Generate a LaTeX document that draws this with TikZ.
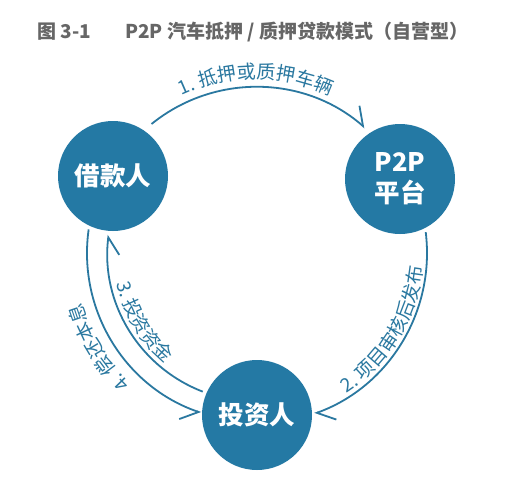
\documentclass[tikz,border=0pt]{standalone}
\usepackage{fontspec}
\newfontfamily\cjk{Noto Sans CJK SC}
\usetikzlibrary{arrows.meta,decorations.text,calc}
\definecolor{mainblue}{HTML}{2479A4}
\definecolor{linkblue}{HTML}{2A78A0}
\definecolor{titlegray}{HTML}{666666}
\newcommand\lblfont{\cjk\fontsize{19}{19}\selectfont}
\begin{document}
\begin{tikzpicture}[x=1pt,y=1pt,
  party/.style={circle, fill=mainblue, minimum size=110pt, inner sep=0pt, text=white,
    font=\cjk\bfseries\fontsize{25.5}{31}\selectfont, align=center},
  flow/.style={draw=linkblue, line width=1.8pt},
  tipout/.style={-{Straight Barb[harpoon, length=16pt, width=26pt]}},
  tipin/.style={-{Straight Barb[harpoon, swap, length=16pt, width=26pt]}},
  lbl/.style={decorate, decoration={text along path, text align=center,
    text color=linkblue, text={|\lblfont|#1}}},
  title/.style={anchor=west, inner sep=0pt, text=titlegray,
    font=\cjk\bfseries\fontsize{19}{19}\selectfont}]
\useasboundingbox[fill=white] (0,0) rectangle (515,-485);
\coordinate (C) at (256,-253);
% title
\node[title] (t1) at (37,-32) {图 3-1};
\node[title] (t2) at (125,-32) {P2P 汽车抵押 / 质押贷款模式（自营型）};
% parties
\node[party] (borrower) at (113,-176) {借款人};
\node[party] (platform) at (400,-179) {P2P\\平台};
\node[party] (investor) at (257,-415) {投资人};
% connector end points
\coordinate (s1) at ($(C)+(129:166)$);
\coordinate (s2) at ($(C)+(7:171)$);
\coordinate (s3) at ($(C)+(-111:148.5)$);
\coordinate (s4) at ($(C)+(-188:169)$);
% connectors
\draw[flow,tipout] (s1) arc[start angle=129, end angle=49, radius=166];
\draw[flow,tipout] (s2) arc[start angle=7, end angle=-70, radius=171];
\draw[flow,tipin] (s3) arc[start angle=-111, end angle=-187, radius=148.5];
\draw[flow,tipin] (s4) arc[start angle=-188, end angle=-109, radius=169];
% labels
\path[lbl={1. 抵押或质押车辆}] ($(C)+(125:174)$) arc[start angle=125, end angle=55, radius=174];
\path[lbl={2. 项目审核后发布}] ($(C)+(-66:167)$) arc[start angle=-66, end angle=4, radius=167];
\path[lbl={3. 投资资金}] ($(C)+(-166:142.5)$) arc[start angle=-166, end angle=-131, radius=142.5];
\path[lbl={4. 偿还本息}] ($(C)+(-133:181)$) arc[start angle=-133, end angle=-165, radius=181];
\end{tikzpicture}
\end{document}
